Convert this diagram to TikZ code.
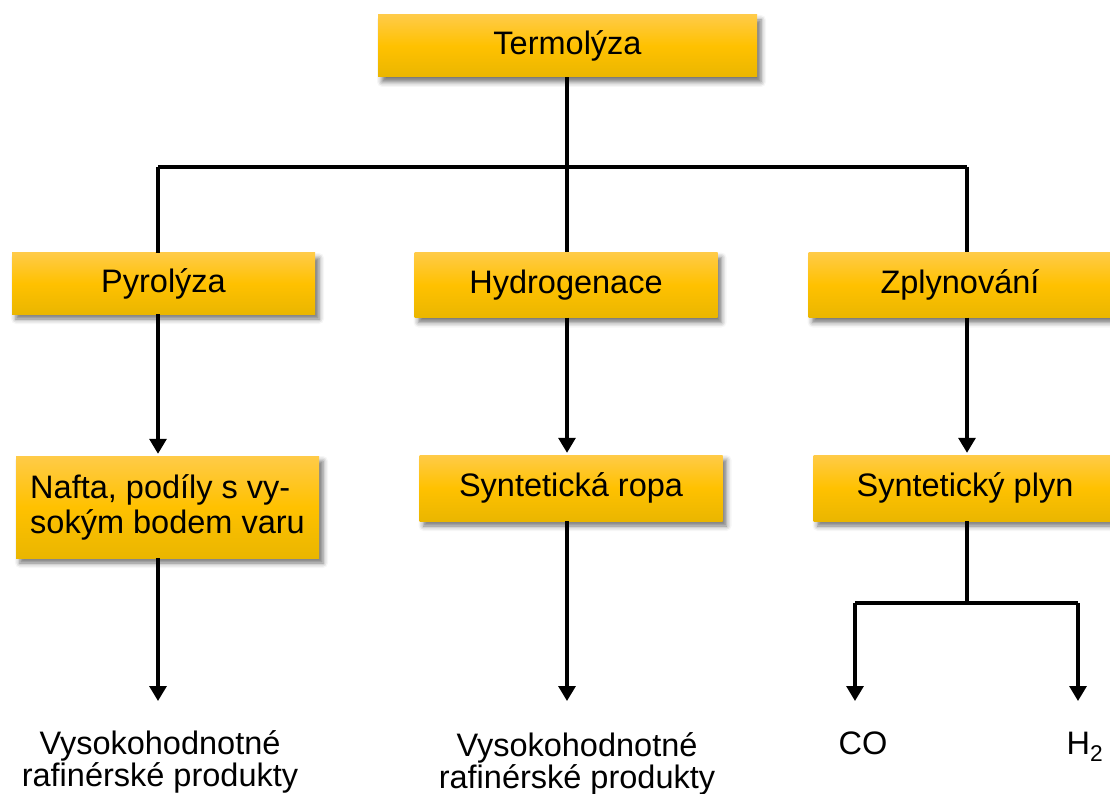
\documentclass[tikz,border=0pt]{standalone}
\usepackage{fontspec}
\setmainfont{Liberation Sans}
\usetikzlibrary{arrows.meta,shadows.blur,calc}
\definecolor{boxtop}{RGB}{255,203,72}
\definecolor{boxmid}{RGB}{255,193,0}
\definecolor{boxbot}{RGB}{234,182,0}
\tikzset{
  procbox/.style={rectangle, top color=boxtop, bottom color=boxbot, middle color=boxmid,
    draw=none, inner sep=0pt, minimum width=303pt, minimum height=62pt,
    font=\fontsize{32.5}{35}\selectfont, text=black,
    blur shadow={shadow xshift=4pt, shadow yshift=-5pt, shadow blur radius=5pt, shadow opacity=55}},
  plaintext/.style={inner sep=0pt, font=\fontsize{32.5}{32}\selectfont, align=center},
  conn/.style={line width=3.2pt, draw=black},
  arr/.style={conn, -{Triangle[length=15pt,width=17pt]}}
}
\begin{document}
\begin{tikzpicture}[x=1pt,y=-1pt]
\useasboundingbox (0,0) rectangle (1110,794);
% boxes
\node[procbox, minimum width=379pt, minimum height=62pt] (term) at (567.5,46) {Termolýza};
\node[procbox, minimum height=61pt] (pyro) at (163.5,283.5) {Pyrolýza};
\node[procbox, minimum height=65pt] (hydro) at (566,285) {Hydrogenace};
\node[procbox, minimum height=65pt] (zply) at (960,285) {Zplynování};
\node[procbox, minimum height=102pt, align=left] (nafta) at (167.5,507) {Nafta, podíly s vy-\\sokým bodem varu};
\node[procbox, minimum height=66pt] (ropa) at (571,488) {Syntetická ropa};
\node[procbox, minimum height=66pt] (plyn) at (965,488) {Syntetický plyn};
% bottom texts
\node[plaintext] (prodL) at (160,762) {Vysokohodnotné\\rafinérské produkty};
\node[plaintext] (prodM) at (577,764) {Vysokohodnotné\\rafinérské produkty};
\node[plaintext, anchor=base] (co) at (863,754) {CO};
\node[plaintext, anchor=base] (h2) at (1085,754) {H\textsubscript{2}};
% junction coordinates
\coordinate (hL) at (158,167);
\coordinate (hM) at (567,167);
\coordinate (hR) at (967,167);
\coordinate (tL) at (158,701);
\coordinate (tM) at (567,701);
\coordinate (jP) at (967,603);
\coordinate (jCO) at (855,603);
\coordinate (jH) at (1078,603);
\coordinate (tCO) at (855,701);
\coordinate (tH) at (1078,701);
% connectors
\draw[conn] (term.south -| hM) -- (hM);
\draw[conn] (hL) -- (hR);
\draw[conn] (hL) -- (hL |- pyro.north);
\draw[conn] (hM) -- (hM |- hydro.north);
\draw[conn] (hR) -- (hR |- zply.north);
\draw[arr] (hL |- pyro.south) -- ($(hL |- nafta.north)+(0,-2)$);
\draw[arr] (hM |- hydro.south) -- ($(hM |- ropa.north)+(0,-2)$);
\draw[arr] (hR |- zply.south) -- ($(hR |- plyn.north)+(0,-2)$);
\draw[arr] (hL |- nafta.south) -- (tL);
\draw[arr] (hM |- ropa.south) -- (tM);
\draw[conn] (hR |- plyn.south) -- (jP);
\draw[conn] (jCO) -- (jH);
\draw[arr] (jCO) -- (tCO);
\draw[arr] (jH) -- (tH);
\end{tikzpicture}
\end{document}
